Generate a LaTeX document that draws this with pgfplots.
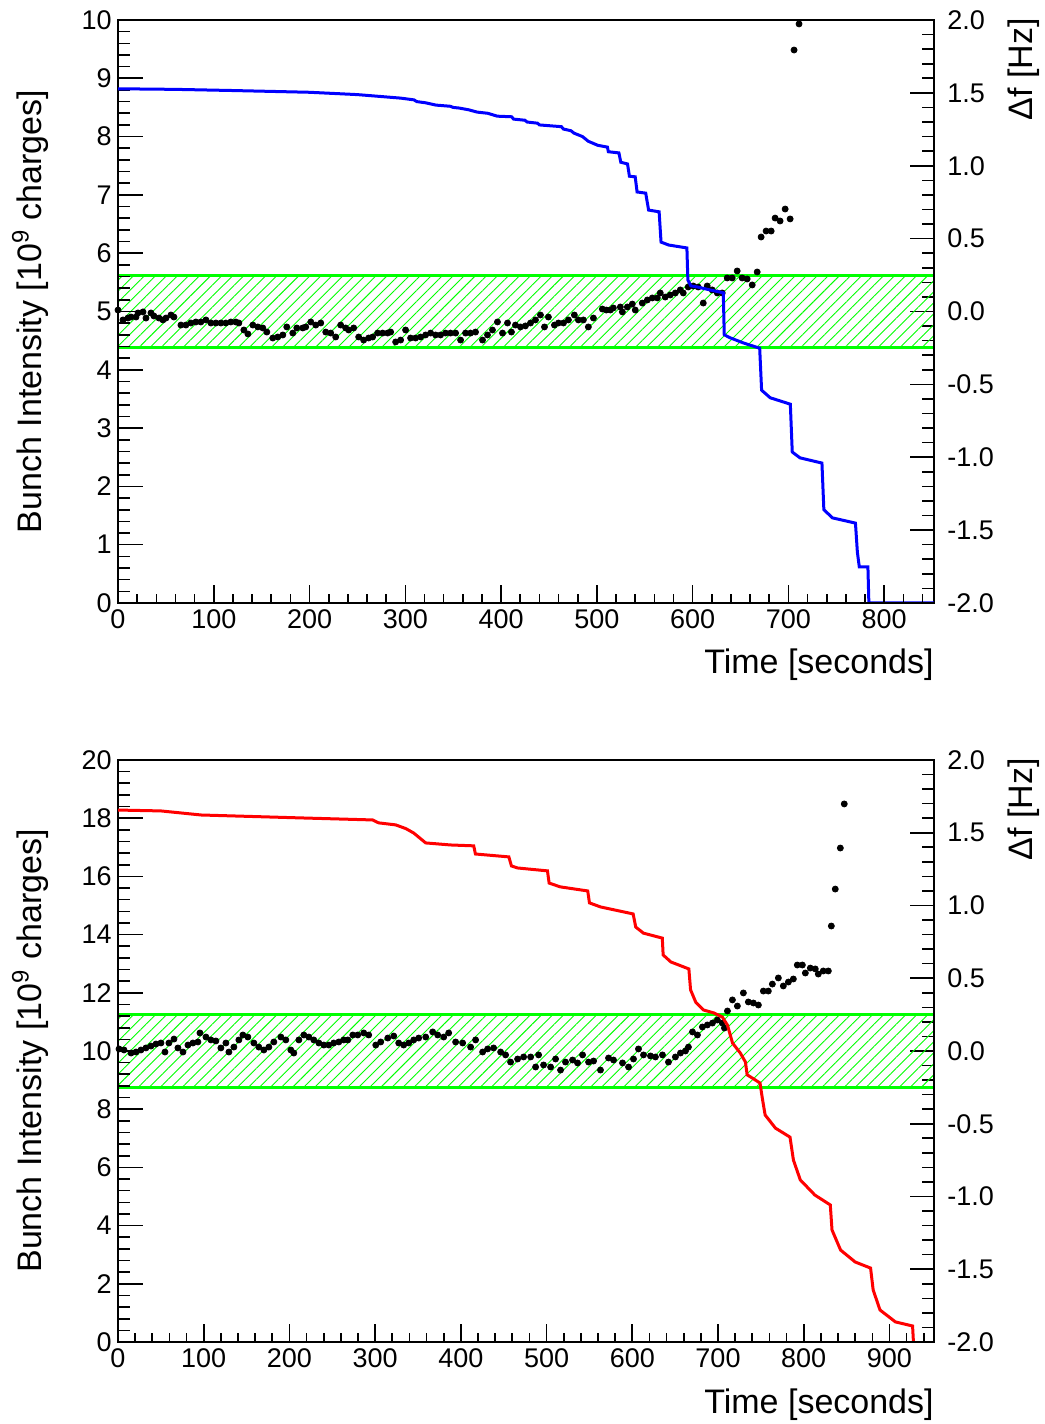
\documentclass[border=0pt]{standalone}
\usepackage{fontspec}
\setmainfont{Liberation Sans}
\usepackage{pgfplots}
\pgfplotsset{compat=1.18}
\usepgfplotslibrary{fillbetween}
\usetikzlibrary{patterns.meta}

\pgfplotsset{
  rootbase/.style={
    scale only axis, width=408pt,
    tick align=inside,
    /pgf/number format/assume math mode=true,
    axis line style={line width=0.8pt},
    every tick/.style={black, line width=0.8pt},
    tick label style={font=\fontsize{13.5}{15}\selectfont},
    label style={font=\fontsize{17}{20}\selectfont, inner sep=0pt},
  },
  hzaxis/.style={rootbase,
    ymin=-2, ymax=2, axis x line=none, axis y line*=right,
    ytick={-2,-1.5,-1,-0.5,0,0.5,1,1.5,2}, minor y tick num=4,
    major tick length=12.25pt, minor tick length=6.1pt,
    yticklabel style={anchor=west, inner sep=0pt, xshift=6.5pt,
      /pgf/number format/.cd, fixed, fixed zerofill, precision=1},
    ylabel={Δf [Hz]},
  },
  intaxis/.style={rootbase,
    xtick=\empty, ytick pos=left, minor y tick num=4,
    major tick length=12.25pt, minor tick length=6.1pt,
    yticklabel style={anchor=east, inner sep=0pt, xshift=-3pt},
    ylabel={Bunch Intensity [10\textsuperscript{9} charges]},
    ylabel style={at={(axis description cs:-0.1078,0.5)}, anchor=center},
  },
  timeaxis/.style={rootbase,
    ymin=0, ymax=1, axis y line=none, axis x line*=bottom,
    xtick distance=100, minor x tick num=4,
    major tick length=8.75pt, minor tick length=4.4pt,
    xticklabel style={anchor=north, inner sep=0pt, yshift=-3pt},
    xlabel={Time [seconds]},
  },
  band/.style={pattern={Lines[angle=45,distance=3.9pt,line width=0.45pt]}, pattern color=green},
  dots/.style={only marks, mark=*, mark size=1.5pt, black},
}

\pgfplotstableread{
t hz
0 0.010
5.2 -0.058
10.4 -0.045
13.6 -0.038
18.8 -0.038
20.9 -0.010
26.1 -0.003
29.2 -0.045
34.4 -0.010
37.5 -0.031
42.8 -0.045
46.9 -0.058
50.1 -0.045
55.3 -0.024
58.4 -0.038
65.7 -0.093
70.9 -0.093
76.1 -0.079
81.3 -0.072
86.5 -0.072
91.8 -0.058
97.0 -0.079
102.2 -0.079
107.4 -0.079
112.6 -0.079
117.8 -0.072
123.0 -0.072
126.2 -0.079
131.4 -0.127
135.6 -0.154
140.8 -0.093
146.0 -0.106
151.2 -0.113
155.4 -0.141
161.6 -0.182
166.8 -0.175
172.1 -0.161
176.2 -0.106
182.5 -0.148
186.7 -0.113
192.9 -0.113
196.0 -0.106
201.3 -0.072
206.5 -0.093
211.7 -0.079
216.9 -0.141
222.1 -0.148
227.3 -0.175
232.5 -0.093
237.7 -0.113
240.9 -0.127
246.1 -0.113
251.3 -0.175
256.5 -0.196
261.7 -0.182
265.9 -0.175
271.1 -0.148
276.3 -0.148
281.5 -0.148
284.7 -0.141
289.9 -0.209
295.1 -0.196
300.3 -0.127
305.5 -0.182
310.7 -0.182
316.0 -0.175
321.2 -0.161
326.4 -0.148
331.6 -0.161
336.8 -0.161
342.0 -0.148
347.2 -0.148
352.5 -0.148
357.7 -0.196
362.9 -0.148
368.1 -0.148
373.3 -0.141
380.6 -0.196
385.8 -0.161
391.0 -0.127
396.2 -0.072
401.5 -0.148
406.7 -0.079
410.8 -0.141
415.0 -0.093
420.2 -0.106
425.4 -0.099
430.7 -0.079
435.9 -0.058
441.1 -0.024
445.3 -0.106
449.4 -0.038
455.7 -0.093
459.9 -0.079
465.1 -0.079
470.3 -0.058
476.5 -0.024
480.7 -0.058
485.9 -0.058
491.1 -0.106
496.4 -0.045
505.7 0.017
509.9 0.010
514.1 0.010
517.2 0.024
524.5 0.031
526.6 -0.003
531.8 0.031
537.0 0.051
540.1 0.010
547.4 0.058
552.7 0.079
557.9 0.093
563.1 0.093
566.2 0.127
571.4 0.099
576.6 0.113
581.9 0.127
587.1 0.148
590.2 0.127
595.4 0.168
600.6 0.175
605.8 0.168
611.1 0.058
615.2 0.175
620.4 0.148
625.7 0.127
630.9 0.127
636.1 0.230
641.3 0.230
646.5 0.278
651.7 0.230
656.9 0.223
662.2 0.182
667.4 0.271
671.5 0.511
676.7 0.552
682.0 0.552
686.1 0.641
691.3 0.621
696.6 0.703
701.8 0.635
705.9 1.794
711.1 1.973
}\topdots

\pgfplotstableread{
t q
0 8.82
60 8.81
120 8.79
200 8.76
250 8.72
295 8.66
309 8.63
312 8.60
321 8.58
332 8.54
347 8.52
350 8.50
356 8.49
366 8.46
375 8.42
386 8.40
396 8.35
411 8.34
413 8.30
425 8.28
427 8.25
438 8.23
440 8.20
463 8.17
465 8.13
473 8.10
476 8.06
485 8.00
491 7.92
501 7.85
511 7.82
512 7.74
523 7.72
525 7.56
532 7.53
534 7.32
540 7.31
542 7.05
551 7.03
554 6.74
565 6.71
567 6.19
575 6.14
594 6.09
595 5.54
598 5.44
605 5.42
618 5.37
632 5.32
633 4.60
639 4.55
653 4.46
670 4.37
672 3.65
681 3.52
702 3.41
704 2.59
712 2.49
735 2.40
737 1.60
746 1.46
770 1.37
772 0.87
774 0.62
783 0.62
784 0
852 0
}\bluecurve

\pgfplotstableread{
t hz
1.2 0.014
7.0 0.007
15.2 -0.014
21.0 -0.007
26.8 0.007
32.6 0.021
38.5 0.034
44.3 0.048
50.1 0.055
54.8 -0.007
59.4 0.055
65.3 0.082
69.9 0.021
75.8 -0.007
81.6 0.041
87.4 0.055
93.2 0.062
95.6 0.124
102.6 0.096
108.4 0.076
114.2 0.069
120.0 0.021
125.9 0.055
129.4 -0.007
135.2 0.027
141.0 0.076
145.7 0.110
151.5 0.096
158.5 0.055
164.3 0.027
170.2 0.007
176.0 0.027
181.8 0.062
190.0 0.096
195.8 0.076
201.6 0.007
205.1 -0.014
211.0 0.076
216.8 0.110
222.6 0.096
228.4 0.076
234.3 0.055
240.1 0.041
245.9 0.041
251.7 0.055
257.6 0.062
263.4 0.076
268.1 0.076
273.9 0.110
279.7 0.110
286.7 0.124
292.5 0.110
300.7 0.041
306.5 0.062
314.7 0.089
321.7 0.103
327.5 0.055
333.3 0.041
339.2 0.055
345.0 0.076
350.8 0.089
359.0 0.096
367.1 0.131
373.0 0.110
380.0 0.096
385.8 0.124
393.9 0.062
402.1 0.055
411.4 0.027
417.2 0.076
425.4 -0.007
431.2 0.014
438.2 0.021
446.4 -0.007
452.2 -0.027
458.0 -0.076
466.2 -0.055
473.2 -0.041
481.4 -0.041
487.2 -0.110
490.7 -0.027
496.5 -0.096
504.7 -0.110
510.5 -0.055
516.3 -0.131
522.1 -0.076
530.3 -0.062
536.1 -0.082
542.0 -0.027
549.0 -0.076
554.8 -0.069
562.9 -0.131
572.3 -0.048
578.1 -0.062
588.6 -0.082
595.6 -0.110
601.4 -0.055
607.2 0.014
613.1 -0.027
621.2 -0.034
627.0 -0.041
635.2 -0.027
642.2 -0.076
650.3 -0.041
656.2 -0.014
662.0 0.000
665.5 0.027
670.2 0.131
676.0 0.110
681.8 0.165
687.6 0.179
693.5 0.192
699.3 0.213
705.1 0.192
707.5 0.158
711.0 0.275
716.8 0.351
722.6 0.309
729.6 0.399
735.4 0.337
741.3 0.330
747.1 0.316
752.9 0.412
758.7 0.412
763.4 0.460
770.4 0.502
776.2 0.447
782.1 0.474
787.9 0.495
792.5 0.591
798.4 0.591
801.9 0.536
807.7 0.570
813.5 0.564
817.0 0.529
822.8 0.550
828.7 0.550
832.2 0.859
836.8 1.113
842.7 1.395
847.3 1.698
}\botdots

\pgfplotstableread{
t q
0 18.28
50 18.25
97 18.11
213 18.01
297 17.94
304 17.84
324 17.77
336 17.64
345 17.49
359 17.15
388 17.08
415 17.05
417 16.77
456 16.67
459 16.36
466 16.29
501 16.19
503 15.77
516 15.64
548 15.50
550 15.09
563 14.95
601 14.71
604 14.26
613 14.05
635 13.88
636 13.30
645 13.06
666 12.82
668 12.10
674 11.68
683 11.41
695 11.31
705 11.17
711 10.89
717 10.27
726 9.93
732 9.62
734 9.18
740 9.07
749 8.90
752 8.32
755 7.80
767 7.35
784 7.04
788 6.25
796 5.57
813 5.05
831 4.71
833 3.85
843 3.16
860 2.75
878 2.54
881 1.79
889 1.10
907 0.69
927 0.55
928 0
}\redcurve

\begin{document}
\begin{tikzpicture}
\path (0,0) rectangle (522pt,712pt);

% ---------------- top panel ----------------
\begin{axis}[hzaxis, at={(59pt,410.5pt)}, anchor=south west, height=291.5pt,
  xmin=0, xmax=852,
  ylabel style={at={(axis description cs:1.110,1.0034)}, anchor=east}]
  \addplot[name path=bl, green, line width=1.5pt] coordinates {(0,-0.25) (852,-0.25)};
  \addplot[name path=bu, green, line width=1.5pt] coordinates {(0,0.25) (852,0.25)};
  \addplot[band] fill between[of=bu and bl];
  \addplot[dots] table[x=t, y=hz] {\topdots};
\end{axis}
\begin{axis}[intaxis, at={(59pt,410.5pt)}, anchor=south west, height=291.5pt,
  xmin=0, xmax=852, ymin=0, ymax=10, ytick={0,1,...,10}]
  \addplot[blue, line width=1.5pt] table[x=t, y=q] {\bluecurve};
\end{axis}
\begin{axis}[timeaxis, at={(59pt,410.5pt)}, anchor=south west, height=291.5pt,
  xmin=0, xmax=852,
  xlabel style={at={(axis description cs:1,-0.1063)}, anchor=east}]
  \addplot[draw=none] coordinates {(0,0.5)};
\end{axis}

% ---------------- bottom panel ----------------
\begin{axis}[hzaxis, at={(59pt,41pt)}, anchor=south west, height=291pt,
  xmin=0, xmax=952,
  ylabel style={at={(axis description cs:1.110,1.0034)}, anchor=east}]
  \addplot[name path=bl2, green, line width=1.5pt] coordinates {(0,-0.25) (952,-0.25)};
  \addplot[name path=bu2, green, line width=1.5pt] coordinates {(0,0.25) (952,0.25)};
  \addplot[band] fill between[of=bu2 and bl2];
  \addplot[dots] table[x=t, y=hz] {\botdots};
\end{axis}
\begin{axis}[intaxis, at={(59pt,41pt)}, anchor=south west, height=291pt,
  xmin=0, xmax=952, ymin=0, ymax=20, ytick={0,2,...,20}]
  \addplot[red, line width=1.5pt] table[x=t, y=q] {\redcurve};
\end{axis}
\begin{axis}[timeaxis, at={(59pt,41pt)}, anchor=south west, height=291pt,
  xmin=0, xmax=952,
  xlabel style={at={(axis description cs:1,-0.108)}, anchor=east}]
  \addplot[draw=none] coordinates {(0,0.5)};
\end{axis}
\end{tikzpicture}
\end{document}
